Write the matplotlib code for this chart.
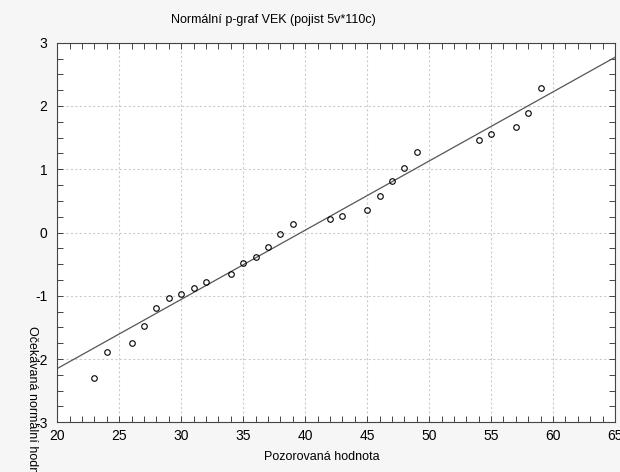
import matplotlib.pyplot as plt
from matplotlib.ticker import MultipleLocator

observed = [23, 24, 26, 27, 28, 29, 30, 31, 32, 34, 35, 36, 37, 38, 39,
            42, 43, 45, 46, 47, 48, 49, 54, 55, 57, 58, 59]
expected = [-2.30, -1.89, -1.75, -1.47, -1.19, -1.04, -0.97, -0.88, -0.79,
            -0.66, -0.48, -0.39, -0.23, -0.02, 0.13,
            0.22, 0.26, 0.35, 0.57, 0.81, 1.02, 1.27, 1.46, 1.55, 1.67, 1.89, 2.29]

# fitted line end points
line_x = [20, 65]
line_y = [-2.15, 2.77]

plt.rcParams['font.family'] = ['Liberation Sans', 'DejaVu Sans']
plt.rcParams['font.size'] = 9
plt.rcParams['axes.unicode_minus'] = False

fig = plt.figure(figsize=(6.2, 4.72), dpi=100, facecolor='#f6f6f6')
ax = fig.add_axes([0.0924, 0.1053, 0.8996, 0.8042])
ax.set_facecolor('white')

ax.plot(line_x, line_y, color='#555555', lw=0.9, zorder=2)
ax.plot(observed, expected, 'o', mfc='none', mec='black', ms=4.0, mew=0.8, zorder=3)

ax.set_xlim(20, 65)
ax.set_ylim(-3, 3)
ax.xaxis.set_major_locator(MultipleLocator(5))
ax.xaxis.set_minor_locator(MultipleLocator(1))
ax.yaxis.set_major_locator(MultipleLocator(1))
ax.yaxis.set_minor_locator(MultipleLocator(0.25))
ax.tick_params(which='both', direction='in', top=True, right=True, length=4,
               width=0.7, color='#444444', labelsize=10)
ax.tick_params(axis='x', pad=5)
ax.tick_params(axis='y', pad=7)
ax.grid(True, which='major', ls=(0, (2, 2)), color='#cccccc', lw=0.8)
for s in ax.spines.values():
    s.set_color('#444444')
    s.set_linewidth(0.8)

fig.text(273 / 620, 1 - 20 / 472, 'Normální p-graf VEK (pojist 5v*110c)',
         ha='center', va='center', fontsize=9)
fig.text(322 / 620, 1 - 457 / 472, 'Pozorovaná hodnota', ha='center', va='center', fontsize=9)
fig.text(32 / 620, 1 - 326 / 472, 'Očekávaná normální hodnota', ha='center', va='top',
         rotation=-90, fontsize=9)

fig.savefig('out.png', dpi=100, facecolor=fig.get_facecolor())
